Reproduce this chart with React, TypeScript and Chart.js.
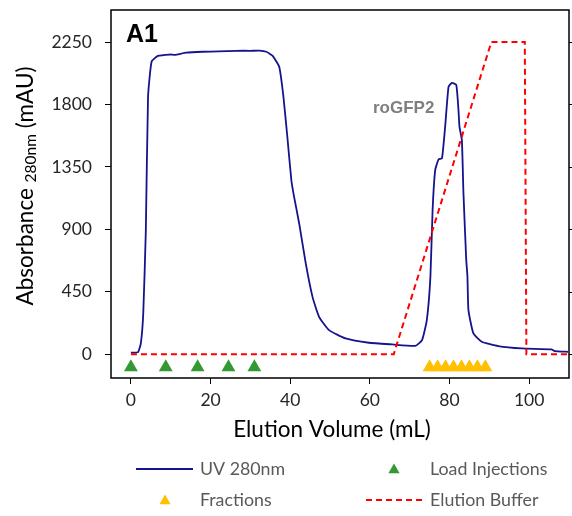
import React, { useEffect, useRef } from "react";
import { Chart, registerables } from "chart.js";

Chart.register(...registerables);

// ---- data ----
const uvVolume = [
  0, 1.8, 2.5, 3.1, 3.75, 4.3, 5.2, 6.8, 9.75, 11, 13.9, 18, 22, 26.4, 30, 32.25,
  34, 35.6, 37.25, 38.3, 39.3, 40.3, 41, 42.25, 43.9, 45.6, 47.25, 49.75, 53.9,
  59.75, 65.6, 71.4, 73.1, 74.3, 75.2, 75.75, 76.4, 77.25, 78.1, 78.9, 79.75,
  80.6, 81.7, 82.25, 82.5, 83.1, 83.5, 84.2, 84.5, 84.75, 86, 88.1, 92.25, 98.1,
  105.6, 106.4, 109.75,
];
const uvAbsorbance = [
  10, 15, 80, 295, 894, 1855, 2110, 2150, 2160, 2158, 2173, 2180, 2183, 2187,
  2187, 2188, 2180, 2150, 2070, 1855, 1560, 1250, 1130, 942, 654, 413, 269, 173,
  113, 82, 70, 60, 101, 245, 557, 1038, 1327, 1404, 1411, 1639, 1927, 1956, 1940,
  1759, 1640, 1543, 1159, 678, 560, 317, 149, 89, 58, 41, 34, 22, 17,
];
const bufferVolume = [0, 66, 90.5, 98.9, 99.3, 110];
const bufferLevel = [0, 0, 2250, 2250, 0, 0];
const loadInjectionVolume = [0, 8.75, 16.75, 24.5, 31];
const fractionVolume = [75, 77, 79, 81, 83, 85, 87, 89];
const markerLevel = -95;
const yTickValues = [0, 450, 900, 1350, 1800, 2250];
const xTickValues = [0, 20, 40, 60, 80, 100];

const BLUE = "#14148c";
const RED = "#ff0000";
const GREEN = "#339933";
const YELLOW = "#ffc000";
const TICK_FONT = "Lato, 'Open Sans', sans-serif";

function drawTriangle(ctx: CanvasRenderingContext2D, x: number, y: number, r: number, color: string) {
  ctx.beginPath();
  ctx.moveTo(x, y - r);
  ctx.lineTo(x + r * 0.866, y + r / 2);
  ctx.lineTo(x - r * 0.866, y + r / 2);
  ctx.closePath();
  ctx.fillStyle = color;
  ctx.fill();
}

const decorPlugin = {
  id: "decor",
  afterDraw(chart: any) {
    const { ctx, chartArea: a } = chart;
    const yScale = chart.scales.y;
    ctx.save();
    // frame
    ctx.strokeStyle = "#000";
    ctx.lineWidth = 1.5;
    ctx.strokeRect(a.left, a.top, a.right - a.left, a.bottom - a.top);
    // right side ticks
    ctx.lineWidth = 1;
    yTickValues.forEach((v) => {
      const py = Math.round(yScale.getPixelForValue(v)) + 0.5;
      ctx.beginPath();
      ctx.moveTo(a.right, py);
      ctx.lineTo(a.right + 6, py);
      ctx.stroke();
    });

    // panel label
    ctx.fillStyle = "#000";
    ctx.font = "bold 25px 'Liberation Sans', Arial, sans-serif";
    ctx.textBaseline = "alphabetic";
    ctx.textAlign = "left";
    ctx.fillText("A1", a.left + 15, a.top + 32);

    // peak label
    ctx.fillStyle = "#7f7f7f";
    ctx.font = "bold 17px 'Liberation Sans', Arial, sans-serif";
    ctx.fillText("roGFP2", 373, 113);

    // x title
    ctx.fillStyle = "#000";
    ctx.font = `22.5px ${TICK_FONT}`;
    ctx.textAlign = "center";
    ctx.textBaseline = "middle";
    ctx.fillText("Elution Volume (mL)", 332, 430);

    // y title with subscript
    ctx.save();
    ctx.translate(25, 186);
    ctx.rotate(-Math.PI / 2);
    const big = `22.5px ${TICK_FONT}`;
    const small = `15.5px ${TICK_FONT}`;
    const p1 = "Absorbance ";
    const p2 = "280nm";
    const p3 = " (mAU)";
    ctx.font = big;
    const w1 = ctx.measureText(p1).width;
    const w3 = ctx.measureText(p3).width;
    ctx.font = small;
    const w2 = ctx.measureText(p2).width;
    let x0 = -(w1 + w2 + w3) / 2;
    ctx.textAlign = "left";
    ctx.textBaseline = "alphabetic";
    ctx.font = big;
    ctx.fillText(p1, x0, 8);
    x0 += w1;
    ctx.font = small;
    ctx.fillText(p2, x0, 11);
    x0 += w2;
    ctx.font = big;
    ctx.fillText(p3, x0, 8);
    ctx.restore();

    // legend
    const slots = [
      { sx: 136, ex: 193, y: 469, tx: 200 },
      { sx: 388, ex: 400, y: 469, tx: 430 },
      { sx: 159, ex: 171, y: 500, tx: 200 },
      { sx: 366, ex: 423, y: 500, tx: 430 },
    ];
    chart.data.datasets.forEach((ds: any, i: number) => {
      const s = slots[i];
      if (!s) return;
      if (ds.showLine) {
        ctx.strokeStyle = ds.borderColor;
        ctx.lineWidth = 2;
        ctx.setLineDash(ds.borderDash || []);
        ctx.beginPath();
        ctx.moveTo(s.sx, s.y);
        ctx.lineTo(s.ex, s.y);
        ctx.stroke();
        ctx.setLineDash([]);
      } else {
        drawTriangle(ctx, (s.sx + s.ex) / 2, s.y + 1, 6.5, ds.backgroundColor);
      }
      ctx.fillStyle = "#595959";
      ctx.font = `17.8px ${TICK_FONT}`;
      ctx.textAlign = "left";
      ctx.textBaseline = "middle";
      ctx.fillText(ds.label, s.tx, s.y);
    });
    ctx.restore();
  },
};

function zeroPadding(s: any) {
  s.paddingTop = 0;
  s.paddingBottom = 0;
  s.paddingLeft = 0;
  s.paddingRight = 0;
}

export default function App() {
  const canvasRef = useRef<HTMLCanvasElement | null>(null);

  useEffect(() => {
    if (!canvasRef.current) return;
    const uvPoints = uvVolume.map((x, i) => ({ x, y: uvAbsorbance[i] }));
    const bufferPoints = bufferVolume.map((x, i) => ({ x, y: bufferLevel[i] }));
    const loadPoints = loadInjectionVolume.map((x) => ({ x, y: markerLevel }));
    const fractionPoints = fractionVolume.map((x) => ({ x, y: markerLevel }));

    const chart = new Chart(canvasRef.current, {
      type: "scatter",
      data: {
        datasets: [
          {
            label: "UV 280nm",
            data: uvPoints,
            showLine: true,
            borderColor: BLUE,
            backgroundColor: BLUE,
            borderWidth: 1.8,
            pointRadius: 0,
            tension: 0.15,
            order: 2,
          },
          {
            label: "Load Injections",
            data: loadPoints,
            showLine: false,
            pointStyle: "triangle",
            pointRadius: 8,
            backgroundColor: GREEN,
            borderColor: GREEN,
            borderWidth: 0,
            order: 1,
          },
          {
            label: "Fractions",
            data: fractionPoints,
            showLine: false,
            pointStyle: "triangle",
            pointRadius: 8,
            backgroundColor: YELLOW,
            borderColor: YELLOW,
            borderWidth: 0,
            order: 1,
          },
          {
            label: "Elution Buffer",
            data: bufferPoints,
            showLine: true,
            borderColor: RED,
            backgroundColor: RED,
            borderWidth: 2,
            borderDash: [6, 4],
            pointRadius: 0,
            tension: 0,
            order: 0,
          },
        ],
      },
      options: {
        responsive: false,
        animation: false,
        devicePixelRatio: 1,
        layout: { autoPadding: false, padding: { top: 10, right: 3, left: 0, bottom: 98 } },
        plugins: {
          legend: { display: false },
          tooltip: { enabled: false },
        },
        scales: {
          x: {
            type: "linear",
            min: -5,
            max: 110,
            afterFit: (s: any) => {
              s.height = 40;
              zeroPadding(s);
            },
            afterBuildTicks: (s: any) => {
              s.ticks = xTickValues.map((v) => ({ value: v }));
            },
            grid: { drawOnChartArea: false, drawTicks: true, tickLength: 6, color: "#000" },
            border: { display: false },
            ticks: {
              color: "#262626",
              font: { family: TICK_FONT, size: 17.5 },
              padding: 6,
              maxRotation: 0,
              callback: (v: any) => String(v),
            },
          },
          y: {
            type: "linear",
            min: -172,
            max: 2481,
            afterFit: (s: any) => {
              s.width = 111;
              zeroPadding(s);
            },
            afterBuildTicks: (s: any) => {
              s.ticks = yTickValues.map((v) => ({ value: v }));
            },
            grid: { drawOnChartArea: false, drawTicks: true, tickLength: 6, color: "#000" },
            border: { display: false },
            ticks: {
              color: "#262626",
              font: { family: TICK_FONT, size: 17.5 },
              padding: 13,
              callback: (v: any) => String(v),
            },
          },
        },
      },
      plugins: [decorPlugin],
    } as any);
    return () => chart.destroy();
  }, []);

  return (
    <div style={{ position: "fixed", left: 0, top: 0, width: 572, height: 516, background: "#fff" }}>
      <canvas ref={canvasRef} width={572} height={516} style={{ display: "block" }} />
    </div>
  );
}
